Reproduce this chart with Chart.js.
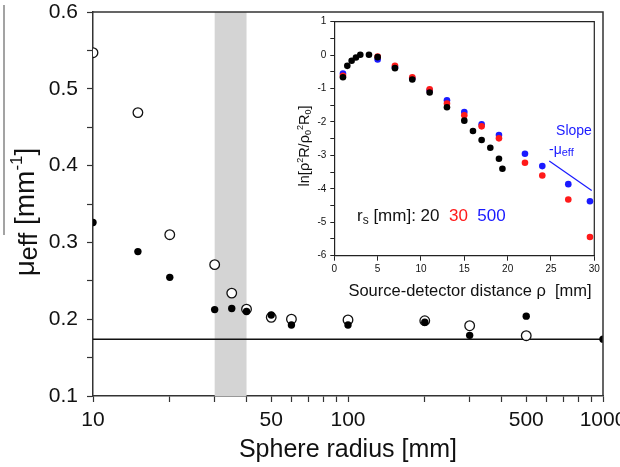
<!DOCTYPE html>
<html lang="en">

<head>
    <meta charset="UTF-8">
    <title>mu_eff vs sphere radius</title>
    <style>
        body { margin: 0; background: #fff; }
        #wrap { position: relative; width: 620px; height: 467px; }
        #mainChart { position: absolute; left: 0; top: 0; }
        #insetChart { position: absolute; left: 288px; top: 13px; background: #fff; }
    </style>
</head>

<body>
    <div id="wrap">
        <canvas id="mainChart" width="620" height="467"></canvas>
        <canvas id="insetChart" width="313" height="296"></canvas>
    </div>
    <script src="https://cdn.jsdelivr.net/npm/chart.js"></script>
    <script>
        // main plot: sphere radius vs mu_eff
        const radii = [10, 15, 20, 30, 35, 40, 50, 60, 100, 200, 300, 500, 1000];
        const muOpen = [0.547, 0.469, 0.310, 0.271, 0.234, 0.213, 0.2025, 0.200, 0.199, 0.198, 0.1915, 0.1785, null];
        const muFilled = [0.326, 0.288, 0.2545, 0.2125, 0.214, 0.210, 0.2055, 0.1925, 0.1925, 0.196, 0.179, 0.204, 0.174];
        const muReference = 0.174;
        const shadedRadius = [30, 40];
        const xRange = [10, 1000];
        const xTickValues = [10, 20, 30, 40, 50, 60, 70, 80, 90, 100, 200, 300, 400, 500, 600, 700, 800, 900, 1000];
        const xTickLabels = [10, 50, 100, 500, 1000];
        const yTickValues = [0.1, 0.15, 0.2, 0.25, 0.3, 0.35, 0.4, 0.45, 0.5, 0.55, 0.6];
        const yTickLabels = ['0.1', '0.2', '0.3', '0.4', '0.5', '0.6'];

        // inset: ln[rho^2 R / rho0^2 R0] vs source-detector distance
        const rho20 = [1, 1.5, 2, 2.5, 3, 4, 5, 7, 9, 11, 13, 15, 16, 17, 18, 19, 19.4];
        const ln20 = [-0.66, -0.32, -0.17, -0.07, 0.01, 0.01, -0.06, -0.39, -0.73, -1.12, -1.56, -1.96, -2.27, -2.54, -2.77, -3.10, -3.40];
        const rho30_500 = [1, 5, 7, 9, 11, 13, 15, 17, 19, 22, 24, 27, 29.5];
        const ln30 = [-0.62, -0.04, -0.32, -0.66, -1.02, -1.45, -1.80, -2.13, -2.49, -3.22, -3.60, -4.32, -5.44];
        const ln500 = [-0.55, -0.13, -0.36, -0.69, -1.05, -1.35, -1.70, -2.07, -2.39, -2.95, -3.32, -3.86, -4.37];
        const slopeRho = [24.8, 29.7];
        const slopeLn = [-3.17, -4.05];
        const insetXTicks = [0, 5, 10, 15, 20, 25, 30];
        const insetYTicks = [-6, -5.5, -5, -4.5, -4, -3.5, -3, -2.5, -2, -1.5, -1, -0.5, 0, 0.5, 1];

        const FONT = '"Liberation Sans", Arial, sans-serif';
        const BLUE = '#1a1aff';
        const RED = '#ff1a1a';

        function pts(xs, ys) {
            return xs.map((x, i) => ({ x: x, y: ys[i] }));
        }

        // draws text made of pieces: [text, size, dy, color]
        function drawRich(ctx, segs, x, y, center) {
            let total = 0;
            segs.forEach(s => {
                ctx.font = s[1] + 'px ' + FONT;
                total += ctx.measureText(s[0]).width;
            });
            let cx = center ? x - total / 2 : x;
            ctx.textAlign = 'left';
            ctx.textBaseline = 'alphabetic';
            segs.forEach(s => {
                ctx.font = s[1] + 'px ' + FONT;
                ctx.fillStyle = s[3] || '#111';
                ctx.fillText(s[0], cx, y + (s[2] || 0));
                cx += ctx.measureText(s[0]).width;
            });
        }

        const mainDecor = {
            id: 'mainDecor',
            beforeDatasetsDraw(chart) {
                const ctx = chart.ctx, a = chart.chartArea, xs = chart.scales.x;
                const x0 = xs.getPixelForValue(shadedRadius[0]);
                const x1 = xs.getPixelForValue(shadedRadius[1]);
                ctx.save();
                ctx.fillStyle = '#d4d4d4';
                ctx.fillRect(x0, a.top, x1 - x0, a.bottom - a.top);
                ctx.restore();
            },
            afterDraw(chart) {
                const ctx = chart.ctx, a = chart.chartArea;
                ctx.save();
                ctx.strokeStyle = '#333';
                ctx.lineWidth = 1.5;
                ctx.beginPath();
                ctx.moveTo(a.left, a.top);
                ctx.lineTo(a.right, a.top);
                ctx.lineTo(a.right, a.bottom);
                ctx.stroke();

                // overline at the far left
                ctx.strokeStyle = '#666';
                ctx.lineWidth = 1.2;
                ctx.beginPath();
                ctx.moveTo(4, 5);
                ctx.lineTo(4, 235);
                ctx.stroke();

                ctx.textAlign = 'center';
                ctx.textBaseline = 'middle';
                ctx.fillStyle = '#111';
                ctx.font = '25px ' + FONT;
                ctx.fillText('Sphere radius [mm]', 348, 450);

                ctx.translate(34, 212);
                ctx.rotate(-Math.PI / 2);
                drawRich(ctx, [['μ', 28], ['eff', 25, 3], [' [mm', 28], ['-1', 17, -12], [']', 28]], 0, 0, true);
                ctx.restore();
            }
        };

        new Chart(document.getElementById('mainChart'), {
            type: 'scatter',
            data: {
                datasets: [{
                    label: 'filled',
                    data: pts(radii, muFilled),
                    pointRadius: 3.7,
                    backgroundColor: '#000',
                    borderColor: '#000',
                    borderWidth: 0,
                    clip: 0
                }, {
                    label: 'open',
                    data: pts(radii, muOpen),
                    pointRadius: 4.8,
                    backgroundColor: '#fff',
                    borderColor: '#111',
                    borderWidth: 1.3,
                    clip: 0
                }, {
                    label: 'reference',
                    type: 'line',
                    data: pts(xRange, [muReference, muReference]),
                    borderColor: '#111',
                    borderWidth: 1.5,
                    pointRadius: 0,
                    clip: 0
                }]
            },
            options: {
                responsive: false,
                animation: false,
                layout: { padding: { top: 12, right: 17, left: 0, bottom: 0 } },
                plugins: { legend: { display: false }, tooltip: { enabled: false } },
                scales: {
                    x: {
                        type: 'logarithmic',
                        min: xRange[0],
                        max: xRange[1],
                        afterBuildTicks: s => { s.ticks = xTickValues.map(v => ({ value: v })); },
                        afterFit: s => { s.height = 71; s.paddingLeft = 0; s.paddingRight = 0; },
                        ticks: {
                            autoSkip: false,
                            maxRotation: 0,
                            padding: 6,
                            color: '#111',
                            font: { family: FONT, size: 21 },
                            callback: v => xTickLabels.includes(v) ? String(v) : ''
                        },
                        grid: { drawOnChartArea: false, tickLength: 6, tickColor: '#333', tickWidth: 1.2 },
                        border: { color: '#333', width: 1.5 }
                    },
                    y: {
                        min: 0.1,
                        max: 0.6,
                        afterBuildTicks: s => { s.ticks = yTickValues.map(v => ({ value: v })); },
                        afterFit: s => { s.width = 93; s.paddingTop = 0; s.paddingBottom = 0; },
                        ticks: {
                            padding: 9,
                            color: '#111',
                            font: { family: FONT, size: 21 },
                            callback: v => {
                                const t = v.toFixed(2).replace(/0$/, '');
                                return yTickLabels.includes(t) ? t : '';
                            }
                        },
                        grid: { drawOnChartArea: false, tickLength: 6, tickColor: '#333', tickWidth: 1.2 },
                        border: { color: '#333', width: 1.5 }
                    }
                }
            },
            plugins: [mainDecor]
        });

        const insetDecor = {
            id: 'insetDecor',
            afterDraw(chart) {
                const ctx = chart.ctx, a = chart.chartArea;
                ctx.save();
                ctx.strokeStyle = '#222';
                ctx.lineWidth = 1.2;
                ctx.beginPath();
                ctx.moveTo(a.left, a.top);
                ctx.lineTo(a.right, a.top);
                ctx.lineTo(a.right, a.bottom);
                ctx.stroke();

                ctx.textAlign = 'center';
                ctx.textBaseline = 'middle';
                ctx.fillStyle = '#111';
                ctx.font = '16.5px ' + FONT;
                ctx.fillText('Source-detector distance ρ  [mm]', 182, 278);

                drawRich(ctx, [['r', 17], ['s', 12, 3], [' [mm]: 20  ', 17], ['30', 17, 0, RED], ['  500', 17, 0, BLUE]], 69, 208, false);
                drawRich(ctx, [['Slope', 14, 0, BLUE]], 286, 122, true);
                drawRich(ctx, [['-', 14, 0, BLUE], ['μ', 14, 0, BLUE], ['eff', 11, 2, BLUE]], 261, 141, false);

                ctx.translate(21, 133);
                ctx.rotate(-Math.PI / 2);
                drawRich(ctx, [['ln[ρ', 14.5], ['2', 9, -6], ['R/ρ', 14.5], ['0', 9, 2], ['2', 9, -6], ['R', 14.5], ['0', 9, 2], [']', 14.5]], 0, 0, true);
                ctx.restore();
            }
        };

        new Chart(document.getElementById('insetChart'), {
            type: 'scatter',
            data: {
                datasets: [{
                    label: '20',
                    data: pts(rho20, ln20),
                    pointRadius: 3.3,
                    backgroundColor: '#000',
                    borderWidth: 0
                }, {
                    label: '30',
                    data: pts(rho30_500, ln30),
                    pointRadius: 3.3,
                    backgroundColor: RED,
                    borderWidth: 0
                }, {
                    label: '500',
                    data: pts(rho30_500, ln500),
                    pointRadius: 3.3,
                    backgroundColor: BLUE,
                    borderWidth: 0
                }, {
                    label: 'slope',
                    type: 'line',
                    data: pts(slopeRho, slopeLn),
                    borderColor: BLUE,
                    borderWidth: 1.2,
                    pointRadius: 0
                }]
            },
            options: {
                responsive: false,
                animation: false,
                layout: { padding: { top: 8.7, right: 6.7, left: 0, bottom: 0 } },
                plugins: { legend: { display: false }, tooltip: { enabled: false } },
                scales: {
                    x: {
                        min: 0,
                        max: 30,
                        afterBuildTicks: s => { s.ticks = insetXTicks.map(v => ({ value: v })); },
                        afterFit: s => { s.height = 53.3; s.paddingLeft = 0; s.paddingRight = 0; },
                        ticks: { maxRotation: 0, padding: 3, color: '#111', font: { family: FONT, size: 10 } },
                        grid: { drawOnChartArea: false, tickLength: 5, tickColor: '#222' },
                        border: { color: '#222', width: 1.2 }
                    },
                    y: {
                        min: -6,
                        max: 1,
                        afterBuildTicks: s => { s.ticks = insetYTicks.map(v => ({ value: v })); },
                        afterFit: s => { s.width = 46.3; s.paddingTop = 0; s.paddingBottom = 0; },
                        ticks: {
                            padding: 4,
                            color: '#111',
                            font: { family: FONT, size: 10 },
                            callback: v => Number.isInteger(v) ? String(v) : ''
                        },
                        grid: { drawOnChartArea: false, tickLength: 4, tickColor: '#222' },
                        border: { color: '#222', width: 1.2 }
                    }
                }
            },
            plugins: [insetDecor]
        });
    </script>
</body>

</html>
